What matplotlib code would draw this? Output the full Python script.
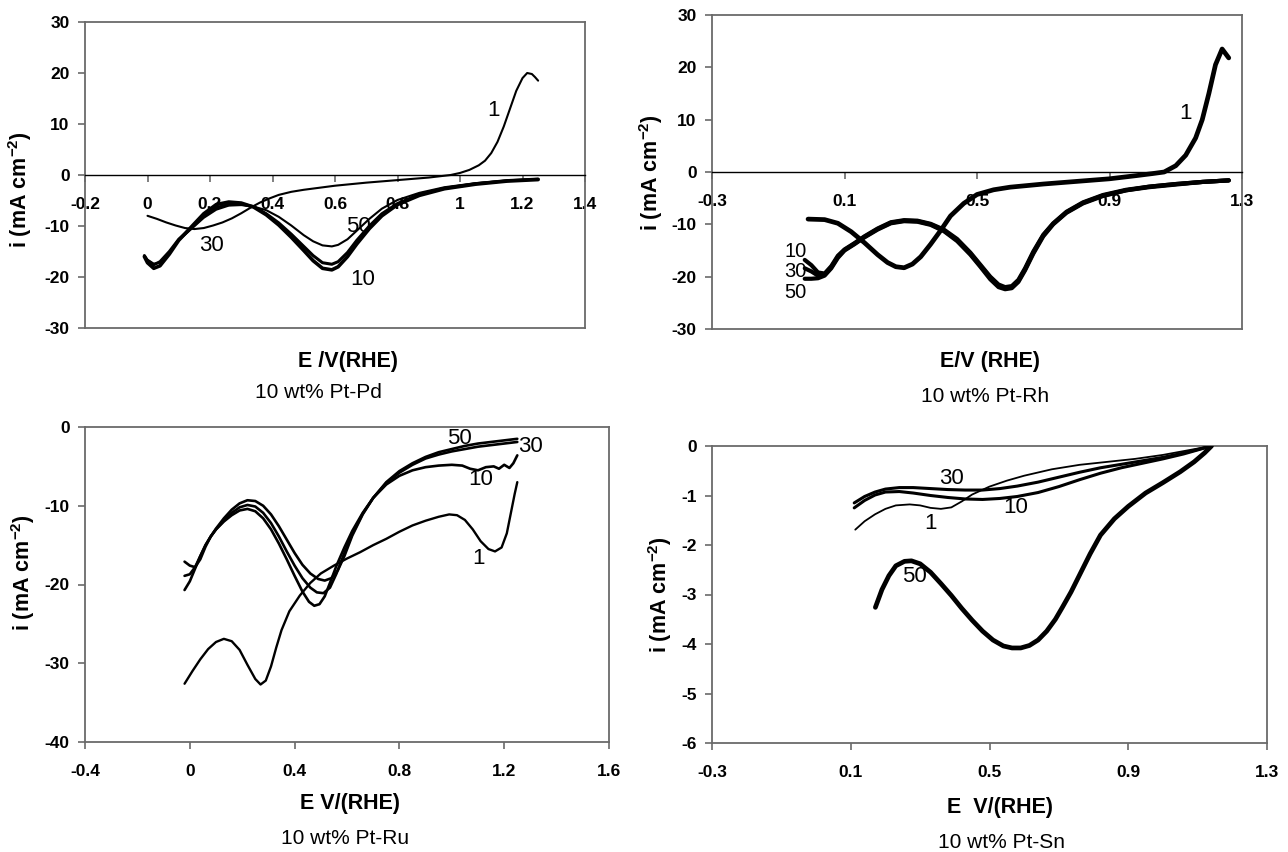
import matplotlib
matplotlib.use("Agg")
import matplotlib.pyplot as plt

plt.rcParams['font.family'] = ['Liberation Sans', 'DejaVu Sans']
plt.rcParams['mathtext.fontset'] = 'custom'
plt.rcParams['mathtext.rm'] = 'Liberation Sans'
plt.rcParams['mathtext.bf'] = 'Liberation Sans:bold'

# ---------------- Pt-Pd ----------------
pd_c1_x = [0.00, 0.03, 0.06, 0.09, 0.12, 0.15, 0.18, 0.21, 0.24, 0.27, 0.30, 0.33, 0.36, 0.39, 0.42, 0.46, 0.50,
           0.55, 0.60, 0.70, 0.80, 0.90, 0.97, 1.00, 1.03, 1.06, 1.08, 1.10, 1.12, 1.14, 1.16, 1.18, 1.20, 1.215,
           1.23, 1.24, 1.25]
pd_c1_y = [-8.0, -8.6, -9.3, -9.9, -10.4, -10.6, -10.4, -9.9, -9.3, -8.5, -7.5, -6.4, -5.4, -4.6, -3.9, -3.3, -2.9,
           -2.5, -2.1, -1.5, -1.0, -0.5, 0.0, 0.4, 1.0, 1.9, 2.8, 4.3, 6.5, 9.5, 13.0, 16.5, 19.0, 20.0, 19.8, 19.2,
           18.5]

pd_rev_x = [1.25, 1.15, 1.05, 0.95, 0.87, 0.80, 0.75, 0.71, 0.67, 0.64, 0.61, 0.59, 0.56, 0.53, 0.50, 0.46, 0.42,
            0.38, 0.34, 0.30, 0.26, 0.22, 0.18, 0.14, 0.10, 0.07, 0.04, 0.02, 0.00, -0.01]
pd_c10_y = [-0.9, -1.2, -1.8, -2.7, -4.0, -5.8, -8.0, -10.5, -13.5, -16.0, -18.0, -18.6, -18.3, -16.8, -14.8, -12.2,
            -9.8, -7.8, -6.3, -5.5, -5.3, -5.8, -7.6, -10.2, -12.8, -15.5, -17.8, -18.3, -17.2, -16.0]
pd_c30_y = [-0.8, -1.1, -1.7, -2.6, -3.8, -5.6, -7.6, -10.0, -12.8, -15.2, -17.0, -17.5, -17.2, -15.8, -14.0, -11.6,
            -9.4, -7.6, -6.2, -5.7, -5.8, -6.4, -8.0, -10.4, -12.6, -15.0, -17.0, -17.6, -16.8, -15.8]
pd_c50_y = [-0.8, -1.1, -1.6, -2.4, -3.5, -4.9, -6.6, -8.6, -10.9, -12.6, -13.7, -14.0, -13.8, -13.0, -11.8, -9.9,
            -8.2, -6.9, -6.2, -5.9, -6.0, -6.8, -8.4, -10.6, -12.8, -15.2, -17.2, -17.4, -16.6, -15.9]

# ---------------- Pt-Rh ----------------
rh_c1_x = [-0.01, 0.04, 0.08, 0.12, 0.16, 0.20, 0.23, 0.255, 0.28, 0.305, 0.33, 0.36, 0.39, 0.42, 0.46, 0.50, 0.55,
           0.60, 0.70, 0.80, 0.90, 0.98, 1.03, 1.065, 1.10, 1.13, 1.16, 1.18, 1.20, 1.22, 1.24, 1.26]
rh_c1_y = [-9.0, -9.1, -9.8, -11.4, -13.5, -15.8, -17.3, -18.1, -18.3, -17.6, -16.2, -13.8, -11.2, -8.4, -6.0, -4.3,
           -3.4, -2.9, -2.3, -1.8, -1.3, -0.7, -0.3, 0.0, 1.2, 3.2, 6.5, 10.0, 15.0, 20.5, 23.5, 21.8]

rh_x = [-0.02, 0.00, 0.02, 0.04, 0.06, 0.08, 0.10, 0.13, 0.16, 0.20, 0.24, 0.28, 0.32, 0.36, 0.40, 0.44, 0.48, 0.51,
        0.54, 0.565, 0.585, 0.605, 0.625, 0.645, 0.67, 0.70, 0.73, 0.77, 0.82, 0.88, 0.95, 1.02, 1.10, 1.18, 1.26]
rh_c10_y = [-16.8, -17.8, -19.2, -19.4, -18.0, -16.0, -14.8, -13.6, -12.3, -10.8, -9.6, -9.2, -9.3, -9.9, -11.0,
            -12.8, -15.4, -17.7, -20.0, -21.5, -22.0, -21.8, -20.6, -18.4, -15.2, -12.0, -9.8, -7.6, -5.8, -4.4,
            -3.4, -2.8, -2.3, -1.9, -1.6]
rh_c30_y = [-18.4, -19.0, -19.8, -19.6, -18.2, -16.2, -14.9, -13.7, -12.4, -10.9, -9.7, -9.3, -9.4, -10.0, -11.2,
            -13.0, -15.6, -17.9, -20.2, -21.7, -22.2, -22.0, -20.8, -18.6, -15.4, -12.1, -9.9, -7.7, -5.9, -4.5,
            -3.5, -2.8, -2.3, -1.9, -1.6]
rh_c50_y = [-20.4, -20.4, -20.3, -19.8, -18.4, -16.4, -15.0, -13.8, -12.5, -11.0, -9.8, -9.4, -9.5, -10.1, -11.3,
            -13.2, -15.8, -18.1, -20.5, -22.0, -22.4, -22.2, -21.0, -18.8, -15.6, -12.3, -10.0, -7.8, -6.0, -4.6,
            -3.5, -2.9, -2.4, -1.9, -1.6]

# ---------------- Pt-Ru ----------------
ru_c1_x = [-0.02, 0.01, 0.04, 0.07, 0.10, 0.13, 0.16, 0.19, 0.22, 0.25, 0.27, 0.29, 0.31, 0.33, 0.35, 0.38, 0.42,
           0.46, 0.50, 0.55, 0.60, 0.65, 0.70, 0.75, 0.80, 0.85, 0.90, 0.95, 0.99, 1.02, 1.05, 1.08, 1.11, 1.14,
           1.165, 1.19, 1.21, 1.225, 1.24, 1.25]
ru_c1_y = [-32.6, -31.0, -29.5, -28.2, -27.3, -26.9, -27.2, -28.3, -30.2, -32.0, -32.7, -32.2, -30.4, -28.0, -25.8,
           -23.4, -21.4, -19.8, -18.6, -17.6, -16.7, -15.9, -15.0, -14.2, -13.3, -12.5, -11.9, -11.4, -11.1, -11.2,
           -11.8, -13.0, -14.5, -15.5, -15.8, -15.3, -13.5, -11.0, -8.5, -7.0]

ru_c10_x = [-0.02, 0.00, 0.02, 0.04, 0.06, 0.08, 0.10, 0.13, 0.16, 0.19, 0.22, 0.25, 0.28, 0.31, 0.34, 0.37, 0.40,
            0.43, 0.455, 0.475, 0.495, 0.515, 0.535, 0.56, 0.59, 0.62, 0.66, 0.70, 0.75, 0.80, 0.85, 0.90, 0.95,
            1.00, 1.04, 1.07, 1.10, 1.13, 1.16, 1.18, 1.20, 1.22, 1.235, 1.25]
ru_c10_y = [-20.7, -19.6, -18.0, -16.4, -15.0, -13.9, -13.0, -12.0, -11.2, -10.6, -10.4, -10.7, -11.6, -13.0, -14.8,
            -16.8, -18.9, -20.9, -22.2, -22.7, -22.5, -21.5, -19.8, -17.6, -15.3, -13.2, -10.9, -9.0, -7.3, -6.2,
            -5.5, -5.1, -4.9, -4.8, -4.9, -5.3, -5.5, -5.1, -5.0, -5.3, -4.8, -5.2, -4.6, -3.6]
ru_c30_x = [-0.02, 0.00, 0.02, 0.04, 0.06, 0.08, 0.10, 0.13, 0.16, 0.19, 0.22, 0.25, 0.28, 0.31, 0.34, 0.37, 0.40,
            0.43, 0.46, 0.485, 0.51, 0.535, 0.56, 0.59, 0.62, 0.66, 0.70, 0.75, 0.80, 0.85, 0.90, 0.95, 1.00, 1.05,
            1.10, 1.15, 1.20, 1.25]
ru_c30_y = [-18.9, -18.7, -17.8, -16.4, -15.0, -13.9, -13.0, -11.9, -10.9, -10.2, -9.9, -10.1, -10.9, -12.2, -13.9,
            -15.8, -17.6, -19.2, -20.4, -21.0, -21.1, -20.4, -18.6, -16.0, -13.6, -11.0, -9.0, -7.1, -5.8, -4.8,
            -4.0, -3.5, -3.1, -2.8, -2.5, -2.3, -2.1, -1.9]
ru_c50_x = [-0.02, 0.00, 0.02, 0.04, 0.06, 0.08, 0.10, 0.13, 0.16, 0.19, 0.22, 0.25, 0.28, 0.31, 0.34, 0.37, 0.40,
            0.43, 0.46, 0.49, 0.515, 0.54, 0.565, 0.59, 0.62, 0.66, 0.70, 0.75, 0.80, 0.85, 0.90, 0.95, 1.00, 1.05,
            1.10, 1.15, 1.20, 1.25]
ru_c50_y = [-17.1, -17.6, -17.8, -16.8, -15.2, -13.9, -12.9, -11.6, -10.5, -9.7, -9.3, -9.4, -10.0, -11.1, -12.6,
            -14.3, -16.0, -17.5, -18.6, -19.3, -19.5, -19.2, -18.2, -16.4, -13.8, -11.1, -9.0, -7.0, -5.6, -4.6,
            -3.8, -3.2, -2.8, -2.4, -2.1, -1.9, -1.7, -1.5]

# ---------------- Pt-Sn ----------------
sn_c50_x = [0.171, 0.19, 0.21, 0.23, 0.255, 0.275, 0.30, 0.33, 0.36, 0.39, 0.42, 0.45, 0.48, 0.51, 0.54, 0.565, 0.59,
            0.615, 0.64, 0.665, 0.69, 0.71, 0.735, 0.76, 0.79, 0.82, 0.86, 0.90, 0.95, 1.00, 1.05, 1.09, 1.12, 1.14]
sn_c50_y = [-3.26, -2.90, -2.62, -2.42, -2.33, -2.32, -2.38, -2.55, -2.78, -3.02, -3.28, -3.52, -3.74, -3.92, -4.04,
            -4.08, -4.08, -4.03, -3.92, -3.74, -3.50, -3.26, -2.95, -2.60, -2.18, -1.80, -1.47, -1.22, -0.95, -0.74,
            -0.52, -0.32, -0.14, 0.0]
sn_x = [0.11, 0.14, 0.17, 0.20, 0.24, 0.28, 0.33, 0.38, 0.43, 0.48, 0.53, 0.58, 0.64, 0.70, 0.76, 0.82, 0.88, 0.94,
        1.00, 1.06, 1.10, 1.14]
sn_c30_y = [-1.15, -1.02, -0.93, -0.87, -0.84, -0.84, -0.86, -0.88, -0.89, -0.89, -0.86, -0.81, -0.73, -0.63, -0.53,
            -0.44, -0.37, -0.30, -0.23, -0.14, -0.07, 0.0]
sn_c10_y = [-1.25, -1.10, -0.99, -0.93, -0.92, -0.95, -1.00, -1.04, -1.07, -1.08, -1.06, -1.02, -0.94, -0.82, -0.68,
            -0.55, -0.44, -0.35, -0.26, -0.16, -0.08, 0.0]
sn_c1_x = [0.113, 0.14, 0.17, 0.20, 0.23, 0.27, 0.30, 0.33, 0.36, 0.39, 0.42, 0.45, 0.50, 0.55, 0.60, 0.68, 0.76,
           0.84, 0.92, 1.00, 1.07, 1.14]
sn_c1_y = [-1.69, -1.52, -1.38, -1.27, -1.20, -1.18, -1.20, -1.25, -1.27, -1.24, -1.12, -0.98, -0.82, -0.70, -0.60,
           -0.47, -0.38, -0.32, -0.26, -0.18, -0.09, 0.0]

W, H = 1288, 852
fig = plt.figure(figsize=(W / 100, H / 100), dpi=100)
fig.patch.set_facecolor('white')

SPINE = '#6a6a6a'


def make_axes(left, top, right, bottom):
    return fig.add_axes([left / W, 1 - bottom / H, (right - left) / W, (bottom - top) / H])


def style(ax, xlim, ylim, xticks, yticks, zero_axis):
    if zero_axis:
        # x axis crosses at y = 0, frame still closed at the bottom
        ax.spines['bottom'].set_position(('data', 0))
        ax.plot([0, 1], [0, 0], transform=ax.transAxes, color=SPINE, lw=1.3, clip_on=False)
    ax.set_xlim(*xlim)
    ax.set_ylim(*ylim)
    ax.set_xticks(xticks)
    ax.set_xticklabels([f'{v:g}' for v in xticks])
    ax.set_yticks(yticks)
    ax.set_yticklabels([f'{v:g}' for v in yticks])
    for s in ax.spines.values():
        s.set_color(SPINE)
        s.set_linewidth(1.3)
    if zero_axis:
        ax.spines['bottom'].set_color('black')
        ax.spines['bottom'].set_linewidth(1.0)
    ax.tick_params(axis='both', direction='out', length=5, width=1.2, color=SPINE,
                   labelsize=12.5, pad=6)
    ax.tick_params(axis='x', pad=11)
    for lab in ax.get_xticklabels() + ax.get_yticklabels():
        lab.set_fontweight('bold')
    ax.tick_params(top=False, right=False)


def lbl(ax, x, y, s, size=16):
    ax.text(x, y, s, fontsize=size, ha='center', va='center', zorder=4)


def curve(ax, x, y, lw):
    ax.plot(x, y, color='black', lw=lw, zorder=3, solid_joinstyle='round', solid_capstyle='round')


# Pt-Pd
ax1 = make_axes(85, 22, 585, 328)
style(ax1, (-0.2, 1.4), (-30, 30), [-0.2, 0, 0.2, 0.4, 0.6, 0.8, 1.0, 1.2, 1.4], [-30, -20, -10, 0, 10, 20, 30], True)
curve(ax1, pd_c1_x, pd_c1_y, 1.5)
curve(ax1, pd_rev_x, pd_c50_y, 1.5)
curve(ax1, pd_rev_x, pd_c30_y, 2.2)
curve(ax1, pd_rev_x, pd_c10_y, 2.6)
lbl(ax1, 1.106, 12.6, '1')
lbl(ax1, 0.205, -13.9, '30')
lbl(ax1, 0.675, -10.0, '50')
lbl(ax1, 0.69, -20.4, '10')

# Pt-Rh
ax2 = make_axes(712, 15, 1242, 329)
style(ax2, (-0.3, 1.3), (-30, 30), [-0.3, 0.1, 0.5, 0.9, 1.3], [-30, -20, -10, 0, 10, 20, 30], True)
curve(ax2, rh_c1_x, rh_c1_y, 3.4)
curve(ax2, rh_x, rh_c10_y, 3.0)
curve(ax2, rh_x, rh_c30_y, 3.0)
curve(ax2, rh_x, rh_c50_y, 3.0)
lbl(ax2, -0.048, -15.2, '10', 14.5)
lbl(ax2, -0.048, -19.1, '30', 14.5)
lbl(ax2, -0.048, -23.0, '50', 14.5)
lbl(ax2, 1.13, 11.2, '1')

# Pt-Ru
ax3 = make_axes(85, 427, 609, 742)
style(ax3, (-0.4, 1.6), (-40, 0), [-0.4, 0, 0.4, 0.8, 1.2, 1.6], [-40, -30, -20, -10, 0], False)
curve(ax3, ru_c1_x, ru_c1_y, 1.7)
curve(ax3, ru_c10_x, ru_c10_y, 1.9)
curve(ax3, ru_c30_x, ru_c30_y, 1.9)
curve(ax3, ru_c50_x, ru_c50_y, 1.9)
lbl(ax3, 1.03, -1.4, '50')
lbl(ax3, 1.30, -2.5, '30')
lbl(ax3, 1.11, -6.7, '10')
lbl(ax3, 1.10, -16.7, '1')

# Pt-Sn
ax4 = make_axes(712, 446, 1267, 743)
style(ax4, (-0.3, 1.3), (-6, 0), [-0.3, 0.1, 0.5, 0.9, 1.3], [-6, -5, -4, -3, -2, -1, 0], False)
curve(ax4, sn_c50_x, sn_c50_y, 3.4)
curve(ax4, sn_x, sn_c30_y, 2.2)
curve(ax4, sn_x, sn_c10_y, 2.2)
curve(ax4, sn_c1_x, sn_c1_y, 1.3)
lbl(ax4, 0.39, -0.66, '30')
lbl(ax4, 0.575, -1.25, '10')
lbl(ax4, 0.33, -1.57, '1')
lbl(ax4, 0.285, -2.64, '50')

# axis titles and captions
ylab = r'i (mA cm$^{\mathbf{-2}}$)'
for x, y in [(20, 190), (651, 173), (23, 573), (660, 595)]:
    fig.text(x / W, 1 - y / H, ylab, rotation=90, ha='center', va='center', fontsize=15.5, fontweight='bold')
for x, y, s in [(348, 362, 'E /V(RHE)'), (990, 362, 'E/V (RHE)'), (350, 803, 'E V/(RHE)'),
                (1000, 807, 'E  V/(RHE)')]:
    fig.text(x / W, 1 - y / H, s, ha='center', va='center', fontsize=15.5, fontweight='bold')
for x, y, s in [(318, 393, '10 wt% Pt-Pd'), (985, 397, '10 wt% Pt-Rh'), (345, 838, '10 wt% Pt-Ru'),
                (1001, 842, '10 wt% Pt-Sn')]:
    fig.text(x / W, 1 - y / H, s, ha='center', va='center', fontsize=15)

fig.savefig('out.png', dpi=100, facecolor='white')
